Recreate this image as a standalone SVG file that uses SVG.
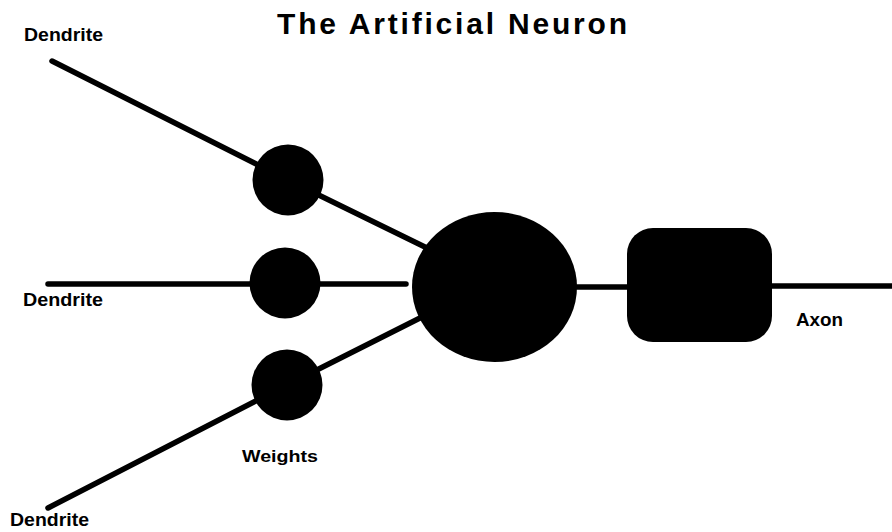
<svg xmlns="http://www.w3.org/2000/svg" width="892" height="532" viewBox="0 0 892 532">
<style>
.bg{fill:#ffffff}
.wire{stroke:#000;stroke-width:5.5;fill:none;stroke-linecap:round}
.node{fill:#000}
.lbl{font-family:"Liberation Sans",Arial,sans-serif;font-weight:bold;fill:#000}
</style>
<rect class="bg" x="0" y="0" width="892" height="532"/>
<text class="lbl" x="277" y="34" font-size="30" textLength="350" lengthAdjust="spacing">The Artificial Neuron</text>
<g id="connectors">
<line class="wire" x1="52" y1="61" x2="288" y2="180"/>
<line class="wire" x1="288" y1="180" x2="427" y2="248"/>
<line class="wire" x1="48" y1="284" x2="285" y2="284"/>
<line class="wire" x1="285" y1="284" x2="406" y2="284"/>
<line class="wire" x1="48" y1="508" x2="287" y2="385"/>
<line class="wire" x1="287" y1="385" x2="420" y2="318"/>
<line class="wire" x1="577" y1="287" x2="627" y2="287" stroke-linecap="butt"/>
<line class="wire" x1="772" y1="286" x2="892" y2="286" stroke-linecap="butt"/>
</g>
<g id="weight1"><circle class="node" cx="288" cy="180" r="35.5"/></g>
<g id="weight2"><circle class="node" cx="285" cy="283" r="35.5"/></g>
<g id="weight3"><circle class="node" cx="287" cy="385" r="35.5"/></g>
<g id="soma"><ellipse class="node" cx="494.5" cy="287" rx="82.5" ry="75"/></g>
<g id="hillock"><rect class="node" x="627" y="228" width="145" height="114" rx="26" ry="26"/></g>
<g id="labels">
<text class="lbl" x="24" y="41" font-size="18" textLength="79" lengthAdjust="spacingAndGlyphs">Dendrite</text>
<text class="lbl" x="23" y="306" font-size="18" textLength="80" lengthAdjust="spacingAndGlyphs">Dendrite</text>
<text class="lbl" x="10" y="526" font-size="18" textLength="79" lengthAdjust="spacingAndGlyphs">Dendrite</text>
<text class="lbl" x="242" y="462" font-size="17" textLength="76" lengthAdjust="spacingAndGlyphs">Weights</text>
<text class="lbl" x="796" y="326" font-size="18" textLength="47" lengthAdjust="spacingAndGlyphs">Axon</text>
</g>
</svg>
